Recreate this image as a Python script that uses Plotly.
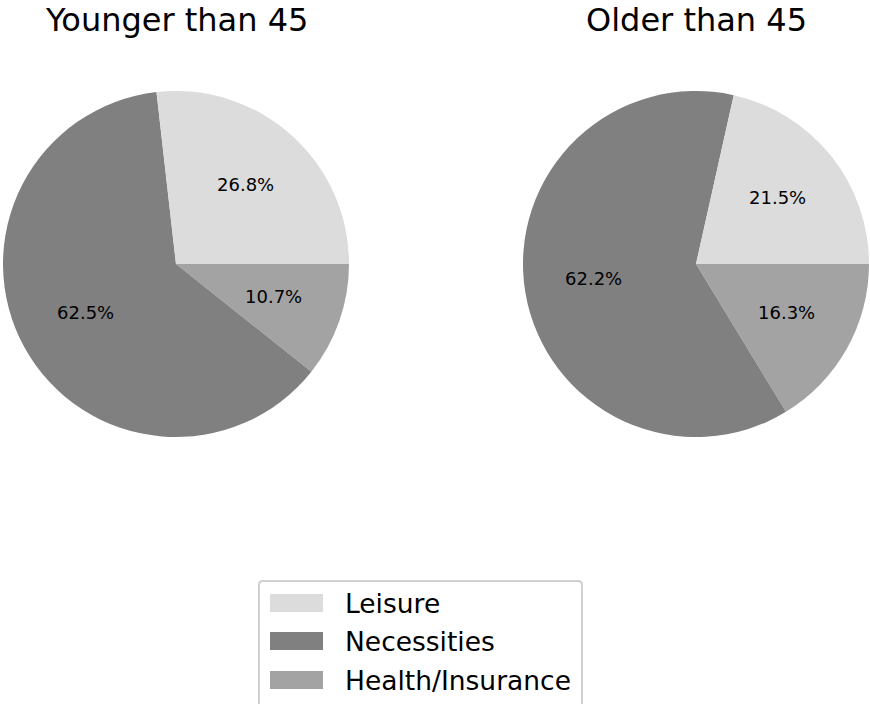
import math
import plotly.graph_objects as go

# Spending shares by age group
categories = ["Leisure", "Necessities", "Health/Insurance"]
younger_shares = [26.8, 62.5, 10.7]
older_shares = [21.5, 62.2, 16.3]
panel_titles = ["Younger than 45", "Older than 45"]
slice_colors = ["#dcdcdc", "#808080", "#a3a3a3"]

W, H = 870, 704
FONT = "DejaVu Sans"

# pixel geometry of the two pie panels (centre x, centre y, radius)
panels = [(176, 264, 173), (696, 264, 173)]

fig = go.Figure()
annotations = []

for (cx, cy, r), shares, title in zip(panels, [younger_shares, older_shares], panel_titles):
    # wedges run counter-clockwise from 3 o'clock; drawn here clockwise in reverse order
    fig.add_trace(go.Pie(
        labels=categories[::-1],
        values=shares[::-1],
        sort=False,
        direction="clockwise",
        rotation=90,
        marker=dict(colors=slice_colors[::-1], line=dict(width=0)),
        textinfo="none",
        hoverinfo="label+percent",
        showlegend=False,
        domain=dict(x=[(cx - r) / W, (cx + r) / W],
                    y=[(H - cy - r) / H, (H - cy + r) / H]),
    ))
    # percentage labels at 0.6 of the radius, on each wedge's mid-angle
    total = sum(shares)
    start = 0.0
    for v in shares:
        mid = math.radians((start + v / 2) / total * 360)
        start += v
        px = cx + 0.6 * r * math.cos(mid)
        py = cy - 0.6 * r * math.sin(mid) - 2  # nudge for text baseline
        annotations.append(dict(
            x=px / W, y=1 - py / H, xref="paper", yref="paper",
            text=f"{v / total * 100:.1f}%", showarrow=False,
            font=dict(family=FONT, size=18, color="black"),
            xanchor="center", yanchor="middle"))
    annotations.append(dict(
        x=cx / W, y=1 - 20 / H, xref="paper", yref="paper",
        text=title, showarrow=False,
        font=dict(family=FONT, size=32, color="black"),
        xanchor="center", yanchor="middle"))


def px_path(points_cmds):
    """Convert a pixel-space SVG path to paper coordinates."""
    out = []
    for tok in points_cmds.split():
        if "," in tok:
            a, b = tok.split(",")
            out.append(f"{float(a) / W},{1 - float(b) / H}")
        else:
            out.append(tok)
    return " ".join(out)


# legend box with wide colour swatches
shapes = []
lx0, lx1, ly0, ly1 = 259, 582, 581, 712
rad = 4
path = (f"M {lx0 + rad},{ly0} L {lx1 - rad},{ly0} Q {lx1},{ly0} {lx1},{ly0 + rad} "
        f"L {lx1},{ly1} L {lx0},{ly1} L {lx0},{ly0 + rad} Q {lx0},{ly0} {lx0 + rad},{ly0} Z")
shapes.append(dict(type="path", xref="paper", yref="paper", path=px_path(path),
                   fillcolor="white", line=dict(color="#d0d0d0", width=2)))
row_y = [603, 641, 680]
for name, color, yc in zip(categories, slice_colors, row_y):
    shapes.append(dict(type="rect", xref="paper", yref="paper",
                       x0=270 / W, x1=323 / W, y0=1 - (yc + 9) / H, y1=1 - (yc - 9) / H,
                       fillcolor=color, line=dict(width=0)))
    annotations.append(dict(
        x=343 / W, y=1 - yc / H, xref="paper", yref="paper",
        text=name, showarrow=False,
        font=dict(family=FONT, size=26.5, color="black"),
        xanchor="left", yanchor="middle"))

fig.update_layout(
    width=W, height=H,
    margin=dict(l=0, r=0, t=0, b=0),
    paper_bgcolor="white", plot_bgcolor="white",
    annotations=annotations, shapes=shapes,
    showlegend=False,
)

fig.write_html("out.html")
